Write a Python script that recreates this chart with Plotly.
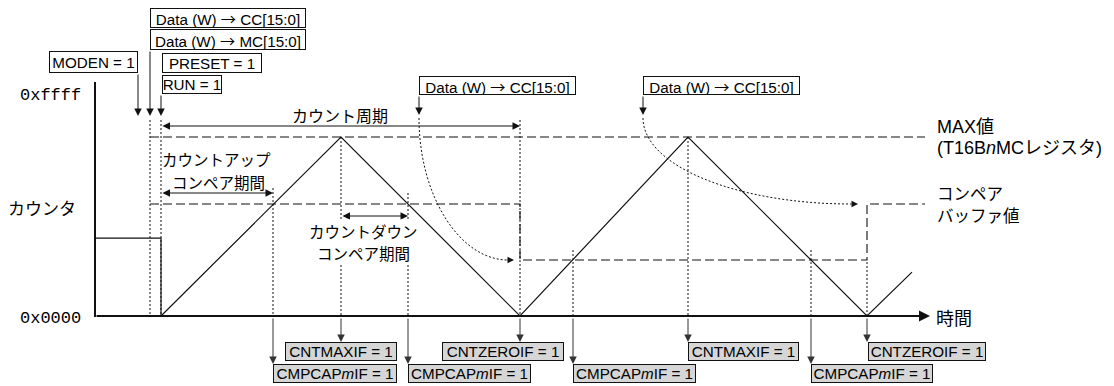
import plotly.graph_objects as go

# --- data: time in ticks from the origin, counter in counts ---
MAX_VAL = 52600      # MAX value (T16BnMC)
CMP_HI = 32900       # compare buffer value, 1st and 3rd period
CMP_LO = 16450       # compare buffer value after the CC write
PRE_VAL = 22900      # counter before PRESET / RUN

pre_t = [0, 66, 66]
pre_v = [PRE_VAL, PRE_VAL, 0]

wave_t = [66, 246, 425, 593, 772, 817]
wave_v = [0, MAX_VAL, 0, MAX_VAL, 0, 12900]

max_t = [55, 830]
cmp_t = [55, 425, 425, 772, 772, 830]
cmp_v = [CMP_HI, CMP_HI, CMP_LO, CMP_LO, CMP_HI, CMP_HI]

t_moden, t_write, t_run = 43, 55, 66
cc_write_t = [324, 548]
cmpcap_t = [178, 313, 478, 716]
cntmax_t = [246, 593]
cntzero_t = [425, 772]
t_end = 835

y_ticks = ["0xffff", "0x0000"]

# --- page geometry (pixel rows used for layout only) ---
W, H = 1114, 386
X0 = 95          # pixel column of t = 0
ROW0 = 316       # pixel row of counter 0x0000
ROWF = 93        # pixel row of counter 0xffff
span = 65535 * H / (ROW0 - ROWF)
Y_LO = -(H - ROW0) / H * span
Y_HI = Y_LO + span

INK = "#111111"
SANS = "Liberation Sans, Arial, Noto Sans CJK JP"
JP = "Noto Sans CJK JP"
MONO = "Liberation Mono, Courier New, monospace"
DOT = "2px,2px"
DASH = "9px,4px"
ARW = "<span style='font-family:Noto Sans CJK JP'>→</span>"

fig = go.Figure()

fig.add_trace(go.Scatter(x=pre_t, y=pre_v, mode="lines",
                         line=dict(color=INK, width=1.2), hoverinfo="skip"))
fig.add_trace(go.Scatter(x=wave_t, y=wave_v, mode="lines",
                         line=dict(color=INK, width=1.2), hoverinfo="skip"))
fig.add_trace(go.Scatter(x=max_t, y=[MAX_VAL, MAX_VAL], mode="lines",
                         line=dict(color=INK, width=1.1, dash=DASH), hoverinfo="skip"))
fig.add_trace(go.Scatter(x=cmp_t, y=cmp_v, mode="lines",
                         line=dict(color=INK, width=1.1, dash=DASH), hoverinfo="skip"))
# invisible trace so the pixel overlay axes exist
fig.add_trace(go.Scatter(x=[0, W], y=[0, H], xaxis="x2", yaxis="y2", mode="markers",
                         marker=dict(opacity=0), hoverinfo="skip"))

shapes = []
# vertical counter axis
shapes.append(dict(type="line", xref="x2", yref="y2", x0=X0, x1=X0, y0=82, y1=ROW0 + 1,
                   line=dict(color=INK, width=2)))

# dotted guides (x from event times, y in pixel rows)
guides = [(t_write, 120), (t_run, 120), (cntzero_t[0], 120),
          (cntmax_t[0], 137), (cntmax_t[1], 137),
          (cmpcap_t[0], 188), (cmpcap_t[1], 193), (cmpcap_t[2], 250), (cmpcap_t[3], 250),
          (cntzero_t[1], 262)]
for t, top in guides:
    shapes.append(dict(type="line", xref="x", yref="y2", x0=t, x1=t, y0=top, y1=ROW0,
                       line=dict(color=INK, width=1, dash=DOT)))

# dotted curves from the CC writes to the new compare buffer value
shapes.append(dict(type="path", xref="x2", yref="y2",
                   path="M419,118 C419,196 460,260 508,260",
                   line=dict(color=INK, width=1, dash=DOT)))
shapes.append(dict(type="path", xref="x2", yref="y2",
                   path="M643,118 C643,166 737,204 851,204",
                   line=dict(color=INK, width=1, dash=DOT)))

ann = []


def arrow(x, y, ax, ay, xref="x", both=False, width=1, size=1.5, color=INK):
    ann.append(dict(x=x, y=y, ax=ax, ay=ay, xref=xref, yref="y2", axref=xref, ayref="y2",
                    text="", showarrow=True, arrowhead=2, arrowsize=size,
                    arrowwidth=width, arrowcolor=color,
                    arrowside="end+start" if both else "end"))


def box(x0, y0, x1, y1, text, fill="white"):
    ann.append(dict(x=(x0 + x1) / 2, y=(y0 + y1) / 2, xref="x2", yref="y2",
                    xanchor="center", yanchor="middle", width=x1 - x0 - 2, height=y1 - y0 - 2,
                    text=text, showarrow=False, bgcolor=fill, bordercolor=INK,
                    borderwidth=1, borderpad=0, align="center", valign="middle",
                    font=dict(family=SANS, size=15.2, color="black")))


def label(x, y, text, size=15.5, xanchor="center", bg=None, family=JP):
    d = dict(x=x, y=y, xref="x2", yref="y2", xanchor=xanchor, yanchor="middle",
             text=text, showarrow=False, borderpad=0,
             font=dict(family=family, size=size, color="black"))
    if bg:
        d["bgcolor"] = bg
    ann.append(d)


# time axis with arrow
ann.append(dict(x=t_end, y=0, ax=0, ay=0, xref="x", yref="y", axref="x", ayref="y",
                text="", showarrow=True, arrowhead=2, arrowsize=1.1, arrowwidth=2,
                arrowcolor=INK))

# register write arrows (top)
arrow(t_moden, 116, t_moden, 73)
arrow(t_write, 116, t_write, 50)
arrow(t_run, 116, t_run, 94)
for t in cc_write_t:
    arrow(t, 115, t, 95)

# period arrows
arrow(cntzero_t[0], 126, t_run, 126, both=True)
arrow(cmpcap_t[0], 193, t_run, 193, both=True)
arrow(cmpcap_t[1], 216, cntmax_t[0], 216, both=True)

# small arrowheads at the end of the dotted curves
arrow(514, 260, 506, 260, xref="x2", size=1.3)
arrow(858, 204, 850, 204, xref="x2", size=1.3)

# interrupt flag arrows (bottom)
for t in cmpcap_t:
    arrow(t, 364, t, ROW0 + 1, color="#333333")
for t in cntmax_t + cntzero_t:
    arrow(t, 342, t, ROW0 + 1, color="#333333")

# top boxes
box(150, 8, 306, 28, f"Data (W) {ARW} CC[15:0]")
box(150, 29, 306, 50, f"Data (W) {ARW} MC[15:0]")
box(49, 51, 138, 73, "MODEN = 1")
box(162, 53, 262, 73, "PRESET = 1")
box(162, 75, 222, 94, "RUN = 1")
box(419, 76, 576, 95, f"Data (W) {ARW} CC[15:0]")
box(643, 76, 800, 95, f"Data (W) {ARW} CC[15:0]")

# bottom flag boxes
GRAY = "#d6d6d6"
box(285, 342, 397, 361, "CNTMAXIF = 1", GRAY)
box(273, 364, 397, 383, "CMPCAP<i>m</i>IF = 1", GRAY)
box(408, 364, 531, 383, "CMPCAP<i>m</i>IF = 1", GRAY)
box(442, 342, 564, 361, "CNTZEROIF = 1", GRAY)
box(573, 364, 696, 383, "CMPCAP<i>m</i>IF = 1", GRAY)
box(688, 342, 799, 361, "CNTMAXIF = 1", GRAY)
box(811, 364, 933, 383, "CMPCAP<i>m</i>IF = 1", GRAY)
box(868, 342, 986, 361, "CNTZEROIF = 1", GRAY)

# text labels
label(82, 95, y_ticks[0], size=17, xanchor="right", family=MONO)
label(82, 318, y_ticks[1], size=17, xanchor="right", family=MONO)
label(7, 207, "カウンタ", size=17, xanchor="left")
label(340, 115, "カウント周期", size=16)
label(216, 159, "カウントアップ")
label(218, 182, "コンペア期間")
label(363, 231, "カウントダウン", bg="white")
label(363, 253, "コンペア期間", bg="white")
label(936, 127, "MAX値", size=18, xanchor="left", family=SANS)
label(936, 148, "(T16B<i>n</i>MCレジスタ)", size=18, xanchor="left", family=SANS)
label(936, 193, "コンペア", size=16.5, xanchor="left")
label(936, 215, "バッファ値", size=16.5, xanchor="left")
label(935, 317, "時間", size=18, xanchor="left")

fig.update_layout(
    width=W, height=H,
    margin=dict(l=0, r=0, t=0, b=0),
    paper_bgcolor="white", plot_bgcolor="white",
    showlegend=False,
    xaxis=dict(range=[-X0, W - X0], visible=False, fixedrange=True),
    yaxis=dict(range=[Y_LO, Y_HI], visible=False, fixedrange=True),
    xaxis2=dict(range=[0, W], overlaying="x", visible=False, fixedrange=True),
    yaxis2=dict(range=[H, 0], overlaying="y", visible=False, fixedrange=True),
    shapes=shapes,
    annotations=ann,
)

fig.write_html("out.html", config={"displayModeBar": False},
               post_script="document.body.style.margin='0';")
